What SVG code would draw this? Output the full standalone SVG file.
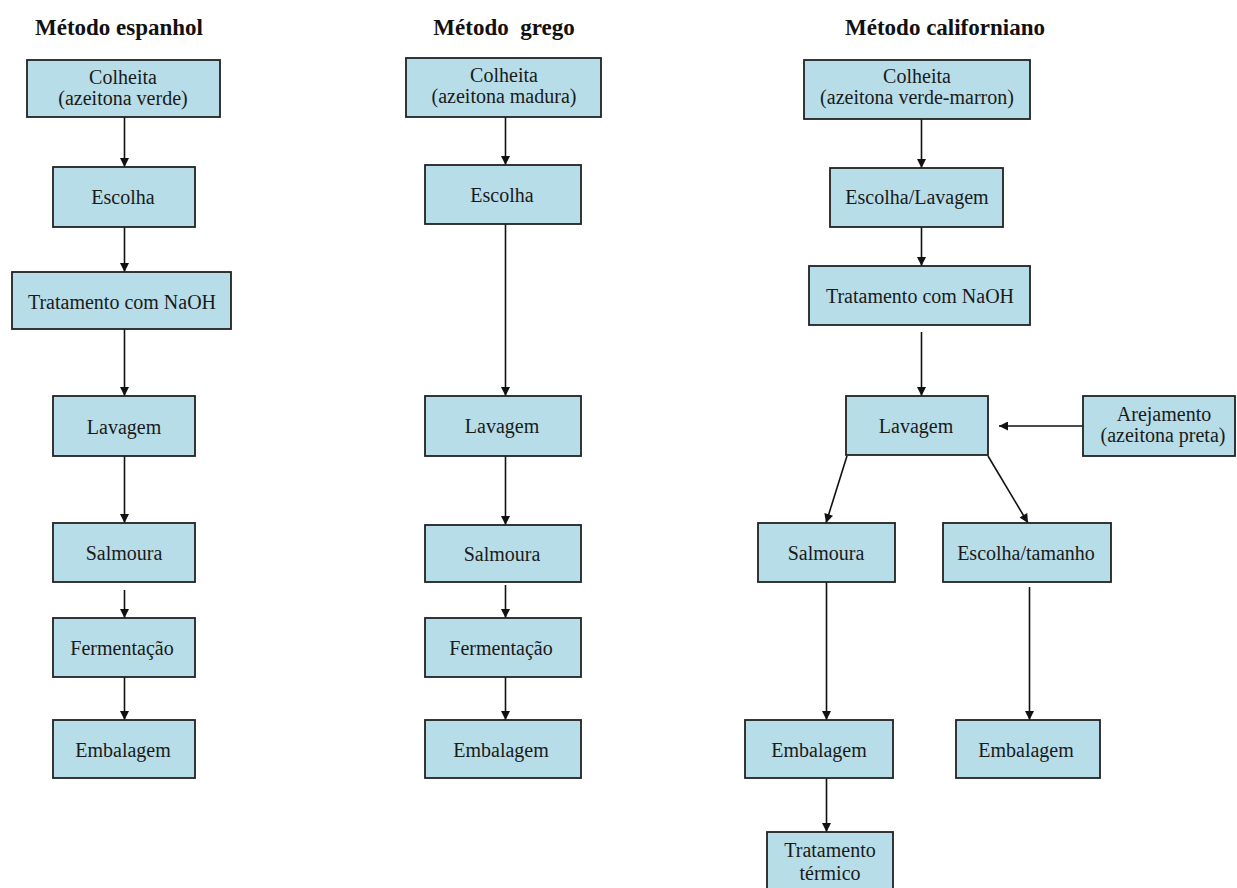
<svg xmlns="http://www.w3.org/2000/svg" width="1237" height="888" viewBox="0 0 1237 888">
<style>
.box{fill:#B7DDE8;stroke:#222;stroke-width:1.8}
.t{font-family:"Liberation Serif","Times New Roman",serif;font-size:20px;fill:#1a1a1a;text-anchor:middle}
.h{font-family:"Liberation Serif","Times New Roman",serif;font-size:23px;font-weight:bold;fill:#111;text-anchor:middle}
.c{stroke:#111;stroke-width:1.6;fill:none;marker-end:url(#ah)}
</style>
<defs>
<marker id="ah" viewBox="0 0 10 10" refX="10" refY="5" markerWidth="10" markerHeight="9" markerUnits="userSpaceOnUse" orient="auto">
<path d="M0,0 L10,5 L0,10 z" fill="#111"/>
</marker>
</defs>
<rect width="1237" height="888" fill="#fff"/>
<g id="titles">
<text class="h" x="119" y="35">Método espanhol</text>
<text class="h" x="504" y="35" xml:space="preserve">Método  grego</text>
<text class="h" x="945" y="35">Método californiano</text>
</g>
<g id="connectors">
<line class="c" x1="124.5" y1="117" x2="124.5" y2="167"/>
<line class="c" x1="124.5" y1="227" x2="124.5" y2="272"/>
<line class="c" x1="124.5" y1="329" x2="124.5" y2="396"/>
<line class="c" x1="124.5" y1="456" x2="124.5" y2="523"/>
<line class="c" x1="124.5" y1="590" x2="124.5" y2="618"/>
<line class="c" x1="124.5" y1="677" x2="124.5" y2="720"/>
<line class="c" x1="505.5" y1="117" x2="505.5" y2="165"/>
<line class="c" x1="505.5" y1="224" x2="505.5" y2="396"/>
<line class="c" x1="505.5" y1="456" x2="505.5" y2="525"/>
<line class="c" x1="505.5" y1="585" x2="505.5" y2="618"/>
<line class="c" x1="505.5" y1="677" x2="505.5" y2="720"/>
<line class="c" x1="921.5" y1="119" x2="921.5" y2="168"/>
<line class="c" x1="921.5" y1="227" x2="921.5" y2="266"/>
<line class="c" x1="921.5" y1="332" x2="921.5" y2="396"/>
<line class="c" x1="1083" y1="426" x2="999" y2="426"/>
<line class="c" x1="847" y1="456" x2="826" y2="523"/>
<line class="c" x1="988" y1="456" x2="1028" y2="523"/>
<line class="c" x1="826.5" y1="582" x2="826.5" y2="720"/>
<line class="c" x1="1029.5" y1="587" x2="1029.5" y2="720"/>
<line class="c" x1="826.5" y1="778" x2="826.5" y2="832"/>
</g>
<g id="es-colheita"><rect class="box" x="27" y="60" width="193" height="57"/><text class="t" x="123" y="84">Colheita</text><text class="t" x="123" y="105">(azeitona verde)</text></g>
<g id="es-escolha"><rect class="box" x="53" y="167" width="142" height="60"/><text class="t" x="123" y="204">Escolha</text></g>
<g id="es-naoh"><rect class="box" x="12" y="272" width="219" height="57"/><text class="t" x="122" y="309">Tratamento com NaOH</text></g>
<g id="es-lavagem"><rect class="box" x="53" y="396" width="142" height="60"/><text class="t" x="124" y="434">Lavagem</text></g>
<g id="es-salmoura"><rect class="box" x="53" y="523" width="142" height="59"/><text class="t" x="124" y="560">Salmoura</text></g>
<g id="es-fermentacao"><rect class="box" x="53" y="618" width="142" height="59"/><text class="t" x="122" y="655">Fermentação</text></g>
<g id="es-embalagem"><rect class="box" x="53" y="720" width="142" height="58"/><text class="t" x="123" y="757">Embalagem</text></g>
<g id="gr-colheita"><rect class="box" x="406" y="58" width="195" height="59"/><text class="t" x="504" y="82">Colheita</text><text class="t" x="504" y="103">(azeitona madura)</text></g>
<g id="gr-escolha"><rect class="box" x="425" y="165" width="156" height="59"/><text class="t" x="502" y="202">Escolha</text></g>
<g id="gr-lavagem"><rect class="box" x="425" y="396" width="156" height="60"/><text class="t" x="502" y="433">Lavagem</text></g>
<g id="gr-salmoura"><rect class="box" x="425" y="525" width="156" height="57"/><text class="t" x="502" y="561">Salmoura</text></g>
<g id="gr-fermentacao"><rect class="box" x="425" y="618" width="156" height="59"/><text class="t" x="501" y="655">Fermentação</text></g>
<g id="gr-embalagem"><rect class="box" x="425" y="720" width="156" height="58"/><text class="t" x="501" y="757">Embalagem</text></g>
<g id="ca-colheita"><rect class="box" x="804" y="60" width="226" height="59"/><text class="t" x="917" y="83">Colheita</text><text class="t" x="917" y="104">(azeitona verde-marron)</text></g>
<g id="ca-escolha-lavagem"><rect class="box" x="830" y="168" width="173" height="59"/><text class="t" x="917" y="204">Escolha/Lavagem</text></g>
<g id="ca-naoh"><rect class="box" x="809" y="266" width="221" height="59"/><text class="t" x="920" y="303">Tratamento com NaOH</text></g>
<g id="ca-lavagem"><rect class="box" x="846" y="396" width="142" height="59"/><text class="t" x="916" y="433">Lavagem</text></g>
<g id="ca-arejamento"><rect class="box" x="1083" y="396" width="152" height="60"/><text class="t" x="1164" y="421">Arejamento</text><text class="t" x="1163" y="442">(azeitona preta)</text></g>
<g id="ca-salmoura"><rect class="box" x="758" y="523" width="137" height="59"/><text class="t" x="826" y="560">Salmoura</text></g>
<g id="ca-escolha-tamanho"><rect class="box" x="943" y="523" width="168" height="59"/><text class="t" x="1026" y="560">Escolha/tamanho</text></g>
<g id="ca-embalagem1"><rect class="box" x="745" y="720" width="148" height="58"/><text class="t" x="819" y="757">Embalagem</text></g>
<g id="ca-embalagem2"><rect class="box" x="956" y="720" width="144" height="58"/><text class="t" x="1026" y="757">Embalagem</text></g>
<g id="ca-termico"><rect class="box" x="767" y="832" width="126" height="60"/><text class="t" x="830" y="857">Tratamento</text><text class="t" x="830" y="880">térmico</text></g>
</svg>
